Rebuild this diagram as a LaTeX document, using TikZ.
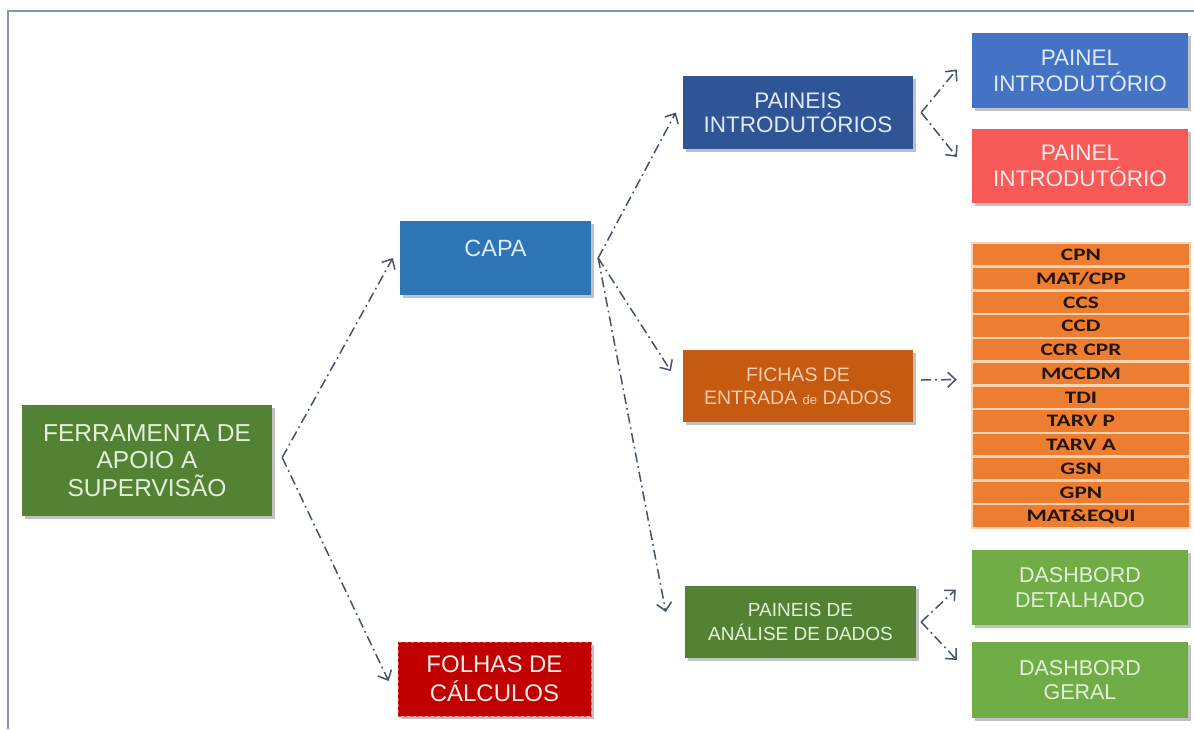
\documentclass[tikz,border=0pt]{standalone}
\usepackage{fontspec}
\setmainfont{Liberation Sans}
\newfontfamily\listfont[FakeStretch=1.33]{Carlito}
\usetikzlibrary{arrows.meta,shadows,calc}
\definecolor{framec}{HTML}{7F95B3}
\definecolor{connc}{HTML}{44546A}
\definecolor{ferrg}{HTML}{548235}
\definecolor{capab}{HTML}{2E75B6}
\definecolor{folr}{HTML}{C00000}
\definecolor{folrb}{HTML}{E84A4A}
\definecolor{pintb}{HTML}{2F5597}
\definecolor{ficho}{HTML}{C55A11}
\definecolor{p1b}{HTML}{4472C4}
\definecolor{p2r}{HTML}{F85A5A}
\definecolor{dashg}{HTML}{70AD47}
\definecolor{listor}{HTML}{ED7D31}
\definecolor{listsep}{HTML}{FAD3B5}
\definecolor{listtxt}{HTML}{24150B}
\definecolor{lgreen}{HTML}{E2F0D9}
\definecolor{lblue}{HTML}{DEEBF7}
\definecolor{lpeach}{HTML}{F8CBAD}
\definecolor{lpink}{HTML}{FDEBE6}
\begin{document}
\begin{tikzpicture}[x=1pt,y=-1pt,
  box/.style={rectangle, inner sep=2pt, align=center,
    drop shadow={shadow xshift=2.5pt,shadow yshift=-2.5pt,opacity=.4,fill=black!60}},
  conn/.style={draw=connc, line width=1.5pt,
    dash pattern=on 10pt off 4pt on 1.8pt off 4pt,
    -{Straight Barb[length=8pt,width=15pt,line width=1.5pt]}},
  row/.style={rectangle, fill=listor, draw=listsep, line width=2.5pt,
    minimum width=218pt, minimum height=23.75pt, inner sep=0pt,
    font=\listfont\bfseries\fontsize{17.5}{18}\selectfont, text=listtxt}]
\useasboundingbox (0,0) rectangle (1194,729);
\fill[white] (0,0) rectangle (1194,729);
\draw[framec, line width=2pt] (8,729) -- (8,11) -- (1194,11);

% main boxes
\node[box, fill=ferrg, text=lgreen, minimum width=250pt, minimum height=111pt,
  font=\fontsize{24.5}{27.5}\selectfont] (ferr) at (147,460.5)
  {FERRAMENTA DE\\APOIO A\\SUPERVISÃO};
\node[box, fill=capab, text=lblue, minimum width=191pt, minimum height=74pt,
  font=\fontsize{23.5}{27}\selectfont] (capa) at (495.5,258) {\raisebox{20pt}{CAPA}};
\node[box, fill=folr, draw=folrb, dashed, line width=.8pt, text=lpink,
  minimum width=193pt, minimum height=74pt,
  font=\fontsize{24}{29}\selectfont] (folhas) at (494.5,679) {FOLHAS DE\\CÁLCULOS};
\node[box, fill=pintb, text=lblue, minimum width=230pt, minimum height=73pt,
  font=\fontsize{22.5}{24.5}\selectfont] (pintro) at (798,112.5) {PAINEIS\\INTRODUTÓRIOS};
\node[box, fill=ficho, text=lpeach, minimum width=230pt, minimum height=72pt,
  font=\fontsize{19.5}{23}\selectfont] (fichas) at (798,386)
  {FICHAS DE\\ENTRADA {\fontsize{13}{13}\selectfont de} DADOS};
\node[box, fill=ferrg, text=lgreen, minimum width=231pt, minimum height=72pt,
  font=\fontsize{19}{23.5}\selectfont] (analise) at (800.5,622)
  {PAINEIS DE\\ANÁLISE DE DADOS};
\node[box, fill=p1b, text=lblue, minimum width=216pt, minimum height=75pt,
  font=\fontsize{22.5}{26}\selectfont] (p1) at (1080,70.5) {PAINEL\\INTRODUTÓRIO};
\node[box, fill=p2r, text=lpink, minimum width=216pt, minimum height=74pt,
  font=\fontsize{22.5}{26}\selectfont] (p2) at (1080,166) {PAINEL\\INTRODUTÓRIO};
\node[box, fill=dashg, text=lgreen, minimum width=216pt, minimum height=75pt,
  font=\fontsize{21.5}{24.5}\selectfont] (dd) at (1080,587.5) {DASHBORD\\DETALHADO};
\node[box, fill=dashg, text=lgreen, minimum width=216pt, minimum height=76pt,
  font=\fontsize{21.5}{24.5}\selectfont] (dg) at (1080,680) {DASHBORD\\GERAL};

% list rows
\node[row] (r1) at (1081,254.9) {CPN};
\node[row] (r2) at (1081,278.6) {MAT/CPP};
\node[row] (r3) at (1081,302.4) {CCS};
\node[row] (r4) at (1081,326.1) {CCD};
\node[row] (r5) at (1081,349.9) {CCR CPR};
\node[row] (r6) at (1081,373.6) {MCCDM};
\node[row] (r7) at (1081,397.4) {TDI};
\node[row] (r8) at (1081,421.1) {TARV P};
\node[row] (r9) at (1081,444.9) {TARV A};
\node[row] (r10) at (1081,468.6) {GSN};
\node[row] (r11) at (1081,492.4) {GPN};
\node[row] (r12) at (1081,516.1) {MAT\&EQUI};

% branch points
\coordinate (vF) at ($(ferr.east)+(10,-3)$);
\coordinate (vC) at ($(capa.east)+(7,0)$);
\coordinate (vP) at ($(pintro.east)+(8,0)$);
\coordinate (vFi) at ($(fichas.east)+(8,-6)$);
\coordinate (vA) at ($(analise.east)+(5,0)$);

% connectors
\draw[conn] (vF) -- ($(capa.west)+(-7,0)$);
\draw[conn] (vF) -- ($(folhas.west)+(-9,2)$);
\draw[conn] (vC) -- ($(pintro.west)+(-7,0)$);
\draw[conn] (vC) -- ($(fichas.west)+(-12,-15)$);
\draw[conn] (vC) -- ($(analise.west)+(-19,-10)$);
\draw[conn] (vP) -- ($(p1.west)+(-15,-1)$);
\draw[conn] (vP) -- ($(p2.west)+(-15,-9)$);
\draw[conn] (vFi) -- ($(r6.west)+(-14,6)$);
\draw[conn] (vA) -- ($(dd.west)+(-16,2)$);
\draw[conn] (vA) -- ($(dg.west)+(-15,-20)$);
\end{tikzpicture}
\end{document}
